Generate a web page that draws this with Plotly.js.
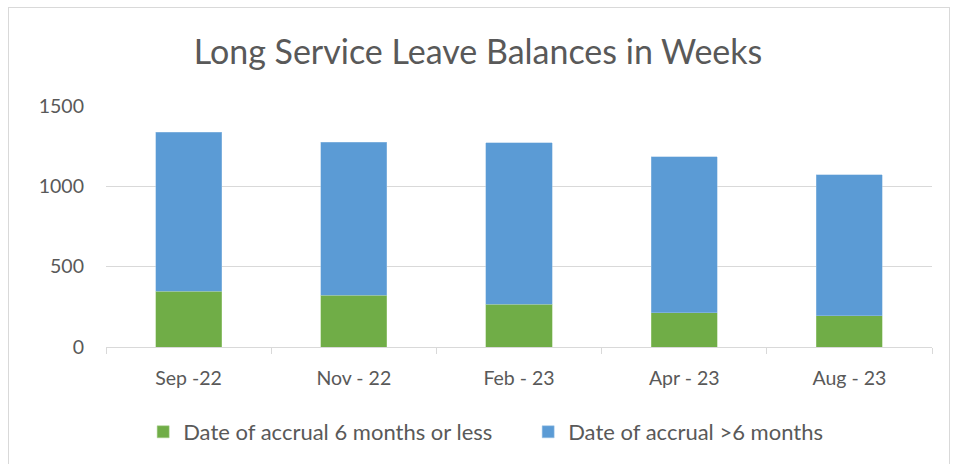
<!DOCTYPE html>
<html>
<head>
<meta charset="utf-8">
<script src="https://cdn.plot.ly/plotly-3.0.1.min.js"></script>
<style>
html,body{margin:0;padding:0;background:#fff;}
#wrap{position:relative;width:956px;height:464px;overflow:hidden;}
#chart{width:956px;height:464px;}
#frame{position:absolute;left:8px;top:7px;width:940px;height:480px;border:1px solid #d9d9d9;pointer-events:none;}
</style>
</head>
<body>
<div id="wrap"><div id="chart"></div><div id="frame"></div></div>
<script>
const categories = ["Sep -22", "Nov - 22", "Feb - 23", "Apr - 23", "Aug - 23"];
const totals = [1337, 1275, 1271, 1184, 1073];
const lessOrEqual6 = [346, 321, 267, 212, 194];
const over6 = totals.map((t, i) => t - lessOrEqual6[i]);
const yTicks = [0, 500, 1000, 1500];

const font = "Lato, 'Open Sans', sans-serif";
const traces = [
  {type: "bar", name: "Date of accrual 6 months or less", x: categories, y: lessOrEqual6,
   marker: {color: "#70ad47", line: {color: "#a9d18e", width: 0.5}}, hoverinfo: "skip"},
  {type: "bar", name: "Date of accrual >6 months", x: categories, y: over6,
   marker: {color: "#5b9bd5", line: {color: "#9dc3e6", width: 0.5}}, hoverinfo: "skip"}
];
const layout = {
  width: 956, height: 464,
  margin: {l: 106, r: 24, t: 106, b: 117},
  barmode: "stack", bargap: 0.6,
  paper_bgcolor: "#fff", plot_bgcolor: "#fff",
  font: {family: font, color: "#595959", size: 16},
  title: {text: "Long Service Leave Balances in Weeks", font: {family: font, size: 34, color: "#595959"},
          x: 0.5, xanchor: "center", y: 1 - 52/464, yanchor: "middle", yref: "container"},
  xaxis: {type: "category", tickson: "boundaries", ticks: "outside", ticklen: 6, tickcolor: "#d9d9d9",
          showline: true, linecolor: "#d9d9d9", linewidth: 1, showgrid: false, ticklabelstandoff: 14,
          tickfont: {size: 19.5, color: "#595959"}, fixedrange: true},
  yaxis: {range: [0, 1500], tickvals: yTicks, ticktext: yTicks.map(String), showgrid: true,
          gridcolor: "#d9d9d9", gridwidth: 1, zeroline: false, showline: false, ticks: "",
          ticklabelstandoff: 21, tickfont: {size: 19.5, color: "#595959"}, fixedrange: true},
  legend: {orientation: "h", x: 0.045, xanchor: "left", y: 1 - 432/464, yanchor: "middle", yref: "container",
           font: {size: 22, color: "#595959"}, traceorder: "normal", itemwidth: 30,
           entrywidth: 340, entrywidthmode: "pixels"},
  showlegend: true
};
Plotly.newPlot("chart", traces, layout, {displayModeBar: false, staticPlot: true});
</script>
</body>
</html>
